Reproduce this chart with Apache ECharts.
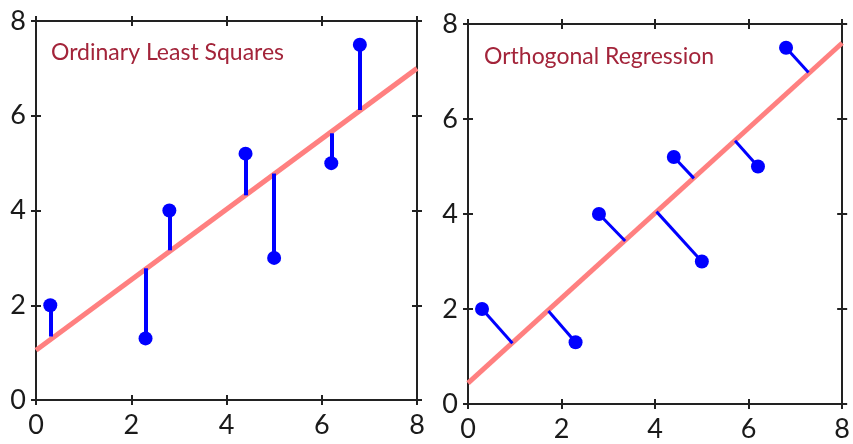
<!DOCTYPE html>
<html>
<head>
<meta charset="utf-8">
<script src="https://cdn.jsdelivr.net/npm/echarts@6/dist/echarts.min.js"></script>
<style>html,body{margin:0;padding:0;background:#fff;}#c{width:853px;height:444px;}</style>
</head>
<body>
<div id="c"></div>
<script>
// Data
const pointsX = [0.3, 2.3, 2.8, 4.4, 5.0, 6.2, 6.8];
const pointsY = [2.0, 1.3, 4.0, 5.2, 3.0, 5.0, 7.5];
// Ordinary least squares: fitted line endpoints and vertical residual feet
const olsLineX = [0, 8];
const olsLineY = [1.05, 7.0];
const olsFootY = [1.34, 2.78, 3.16, 4.32, 4.78, 5.63, 6.12];
// Orthogonal regression: fitted line endpoints and perpendicular feet
const orthLineX = [0, 8];
const orthLineY = [0.44, 7.6];
const orthFootX = [0.95, 1.72, 3.36, 4.83, 4.03, 5.71, 7.28];
const orthFootY = [1.28, 1.96, 3.43, 4.75, 4.05, 5.54, 6.98];
const tickValues = [0, 2, 4, 6, 8];
const titles = ['Ordinary Least Squares', 'Orthogonal Regression'];

const FONT = 'Lato';
const AXC = '#222';

const grids = [
  {left: 36, top: 21, width: 381, height: 379},
  {left: 468, top: 24, width: 381, height: 380}
];

const xAxes = [], yAxes = [];
function baseAxis(gi, pos, inside, labels) {
  return {
    type: 'value', gridIndex: gi, position: pos, min: 0, max: 8, interval: 2,
    axisLine: {show: true, onZero: false, lineStyle: {color: AXC, width: 2}},
    axisTick: {show: true, inside: inside, length: 5, lineStyle: {color: AXC, width: 2}},
    splitLine: {show: false},
    axisLabel: labels ? {show: true, fontFamily: FONT, fontSize: 27, color: '#1a1a1a',
      margin: pos === 'bottom' ? 12 : 10,
      formatter: v => tickValues.indexOf(v) >= 0 ? String(v) : ''} : {show: false}
  };
}
grids.forEach((g, gi) => {
  xAxes.push(baseAxis(gi, 'bottom', false, true));
  xAxes.push(baseAxis(gi, 'bottom', true, false));
  xAxes.push(baseAxis(gi, 'top', false, false));
  xAxes.push(baseAxis(gi, 'top', true, false));
  yAxes.push(baseAxis(gi, 'left', false, true));
  yAxes.push(baseAxis(gi, 'left', true, false));
  yAxes.push(baseAxis(gi, 'right', false, false));
  yAxes.push(baseAxis(gi, 'right', true, false));
});

const pts = pointsX.map((x, i) => [x, pointsY[i]]);
const series = [];
// Panel 1
series.push({
  type: 'line', xAxisIndex: 0, yAxisIndex: 0, symbol: 'none', silent: true,
  data: olsLineX.map((x, i) => [x, olsLineY[i]]),
  lineStyle: {color: '#ff8080', width: 5}, z: 2
});
series.push({
  type: 'lines', coordinateSystem: 'cartesian2d', xAxisIndex: 0, yAxisIndex: 0,
  data: pointsX.map((x, i) => ({coords: [[x, pointsY[i]], [x, olsFootY[i]]]})),
  lineStyle: {color: '#0000ff', width: 4, opacity: 1}, z: 3
});
series.push({
  type: 'scatter', xAxisIndex: 0, yAxisIndex: 0, data: pts, symbolSize: 14,
  itemStyle: {color: '#0000ff', opacity: 1}, z: 4
});
// Panel 2
series.push({
  type: 'line', xAxisIndex: 4, yAxisIndex: 4, symbol: 'none', silent: true,
  data: orthLineX.map((x, i) => [x, orthLineY[i]]),
  lineStyle: {color: '#ff8080', width: 5}, z: 2
});
series.push({
  type: 'lines', coordinateSystem: 'cartesian2d', xAxisIndex: 4, yAxisIndex: 4,
  data: pointsX.map((x, i) => ({coords: [[x, pointsY[i]], [orthFootX[i], orthFootY[i]]]})),
  lineStyle: {color: '#0000ff', width: 3, opacity: 1}, z: 3
});
series.push({
  type: 'scatter', xAxisIndex: 4, yAxisIndex: 4, data: pts, symbolSize: 14,
  itemStyle: {color: '#0000ff', opacity: 1}, z: 4
});

const chart = echarts.init(document.getElementById('c'), null, {renderer: 'canvas'});
chart.setOption({
  animation: false,
  backgroundColor: '#fff',
  title: [
    {text: titles[0], left: 46, top: 36, textStyle: {fontFamily: FONT, fontSize: 23, fontWeight: 'normal', color: '#a3243a'}},
    {text: titles[1], left: 479, top: 40, textStyle: {fontFamily: FONT, fontSize: 23, fontWeight: 'normal', color: '#a3243a'}}
  ],
  grid: grids,
  xAxis: xAxes,
  yAxis: yAxes,
  series: series
});
</script>
</body>
</html>
